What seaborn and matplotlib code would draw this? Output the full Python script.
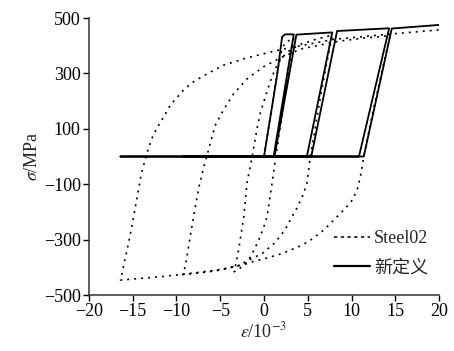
import numpy as np
import pandas as pd
import matplotlib
matplotlib.use("Agg")
import matplotlib.pyplot as plt
import seaborn as sns
from matplotlib.lines import Line2D

# ---- data (strain in 1e-3, stress in MPa) ----
steel02_strain = [0, 1.5, 1.9, 2.3, 3.0, 3.4,
                  2.4, 1.35, 0.92, 0.35, -0.1, -0.6, -1.1, -1.55, -2.0, -2.5, -3.4,
                  -2.9, -2.3, -1.95, -1.35, -0.8, -0.4, 0.0, 0.7, 1.3, 2.0, 3.0, 4.2, 6.0, 7.8,
                  7.0, 6.2, 5.3, 4.9, 4.5, 4.2, 3.7, 3.2, 2.45, 1.3, -0.2, -1.75, -3.0, -5.0, -7.0, -9.3,
                  -9.0, -8.4, -7.9, -7.4, -6.9, -6.5, -6.1, -5.55, -4.6, -3.5, -1.95, 0.0, 2.0, 4.2, 8.5, 11.5, 14.4,
                  13.5, 12.5, 11.4, 11.1, 10.7, 10.1, 9.3, 8.55, 6.85, 5.1, 4.0, 2.1, 0.15, -1.35, -2.3, -3.5, -5.4, -9.2, -12.5, -16.4,
                  -15.9, -15.4, -14.9, -14.4, -14.0, -13.6, -13.2, -12.8, -12.25, -11.7, -10.7, -9.2, -8.05, -6.3, -4.6, -1.95, 1.9, 8.0, 14.4, 20.0]
steel02_stress = [0, 300, 370, 405, 422, 428,
                  220, 0, -97, -217, -262, -301, -335, -362, -382, -398, -416,
                  -337, -217, -97, 0, 100, 160, 200, 270, 318, 355, 385, 405, 424, 438,
                  310, 170, 0, -97, -135, -157, -190, -217, -262, -310, -350, -374, -395, -410, -419, -426,
                  -398, -283, -190, -105, -40, 5, 53, 114, 170, 225, 280, 325, 358, 388, 416, 428, 436,
                  310, 170, 0, -60, -115, -157, -187, -211, -265, -307, -325, -350, -368, -380, -390, -398, -410, -425, -436, -446,
                  -374, -300, -217, -130, -60, -15, 30, 66, 102, 130, 186, 240, 270, 302, 330, 356, 386, 423, 442, 457]

new_strain = [0, 1.5, 2.07, 2.4, 3.4, 1.1, -3.5, 1.2, 3.7, 7.8, 4.9, -9.3, 5.4, 8.35, 14.3,
              10.85, -16.4, 11.4, 14.6, 20.0]
new_stress = [0, 294, 432, 441, 441, 0, 0, 0, 440, 448, 0, 0, 0, 453, 463,
              0, 0, 0, 462, 475]

x_ticks = [-20, -15, -10, -5, 0, 5, 10, 15, 20]
y_ticks = [500, 300, 100, -100, -300, -500]
labels = ["Steel02", "新定义"]

df = pd.concat([
    pd.DataFrame({"strain": steel02_strain, "stress": steel02_stress, "model": labels[0]}),
    pd.DataFrame({"strain": new_strain, "stress": new_stress, "model": labels[1]}),
], ignore_index=True)

sns.set_style("ticks")
plt.rcParams["font.family"] = ["Liberation Serif", "Noto Sans CJK SC"]
plt.rcParams["mathtext.fontset"] = "stix"
plt.rcParams["axes.unicode_minus"] = True

fig = plt.figure(figsize=(4.54, 3.51), dpi=100)
ax = fig.add_axes([0.196, 0.1595, 0.771, 0.7892])

sns.lineplot(data=df, x="strain", y="stress", hue="model", style="model",
             sort=False, estimator=None, ax=ax,
             palette={labels[0]: "black", labels[1]: "black"},
             dashes={labels[0]: (1.2, 3.0), labels[1]: ""},
             legend=False)
lines = ax.get_lines()
lines[0].set_linewidth(1.2)
lines[1].set_linewidth(1.3)

ax.set_xlim(-20, 20)
ax.set_ylim(-500, 500)
ax.set_xticks(x_ticks)
ax.set_yticks(y_ticks)
ax.set_xticklabels([f"{t:d}".replace("-", "\u2212") for t in x_ticks])
ax.set_yticklabels([f"{t:d}".replace("-", "\u2212") for t in y_ticks])
ax.tick_params(axis="both", direction="out", length=4, width=1, labelsize=13,
               colors="black", pad=2)
for s in ["top", "right"]:
    ax.spines[s].set_visible(False)
for s in ["left", "bottom"]:
    ax.spines[s].set_linewidth(1.1)
    ax.spines[s].set_color("#333333")

ax.set_xlabel(r"$\varepsilon$/10$^{-3}$", fontsize=13, labelpad=1)
ax.set_ylabel(r"$\sigma$/MPa", fontsize=13, labelpad=2)

handles = [Line2D([], [], color="black", lw=1.1, linestyle=(0, (2.2, 2.2))),
           Line2D([], [], color="black", lw=1.6)]
ax.legend(handles, labels, loc="lower right", bbox_to_anchor=(0.99, 0.04),
          frameon=False, fontsize=13, handlelength=2.0, handletextpad=0.2,
          labelspacing=0.7, borderaxespad=0.0)

fig.savefig("out.png", dpi=100)
